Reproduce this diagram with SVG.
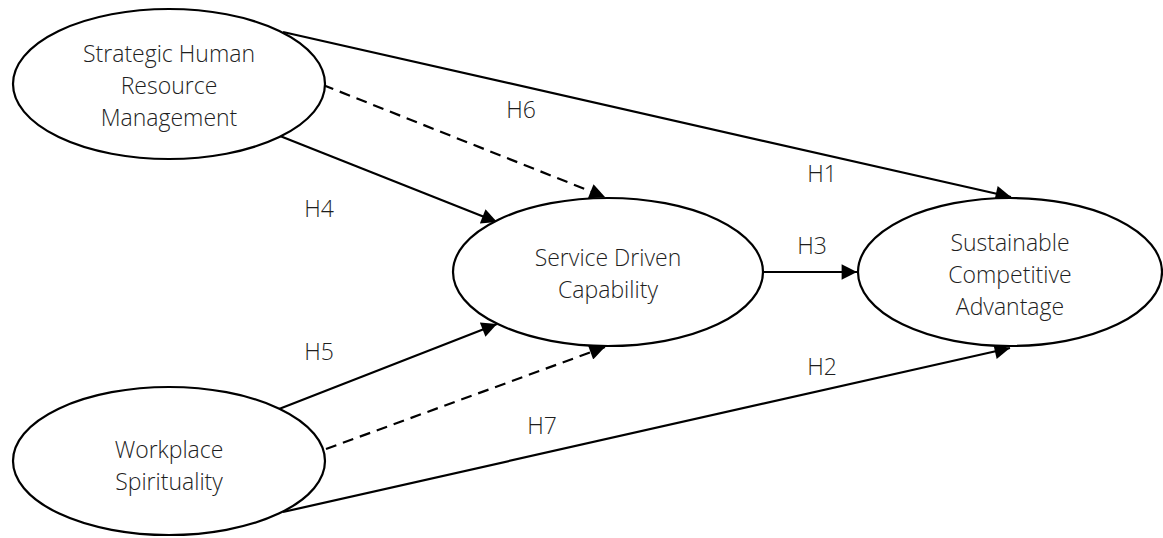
<svg xmlns="http://www.w3.org/2000/svg" width="1163" height="538" viewBox="0 0 1163 538">
<style>
.node ellipse{fill:#fff;stroke:#000;stroke-width:2.2}
text{font-family:"Open Sans","Liberation Sans",sans-serif;font-weight:300;font-size:23px;fill:#1e1e1e;text-anchor:middle}
.edge{stroke:#000;stroke-width:2.2;fill:none;marker-end:url(#ah)}
.dash{stroke-dasharray:11 7}
</style>
<defs>
<marker id="ah" viewBox="0 0 10 10" refX="10" refY="5" markerWidth="8" markerHeight="7" markerUnits="strokeWidth" orient="auto">
<path d="M0,0 L10,5 L0,10 z" fill="#000"/>
</marker>
</defs>
<g id="connectors">
<line class="edge" x1="283" y1="32" x2="1011" y2="197"/>
<line class="edge dash" x1="323" y1="85" x2="605" y2="197"/>
<line class="edge" x1="280" y1="136" x2="497" y2="222"/>
<line class="edge" x1="763" y1="272" x2="857" y2="272"/>
<line class="edge" x1="279" y1="409" x2="497" y2="324"/>
<line class="edge dash" x1="326" y1="449" x2="605" y2="347"/>
<line class="edge" x1="283" y1="512" x2="1010" y2="348"/>
<text x="521" y="118">H6</text>
<text x="319" y="217">H4</text>
<text x="822" y="182">H1</text>
<text x="812" y="254">H3</text>
<text x="319" y="360">H5</text>
<text x="542" y="434">H7</text>
<text x="822" y="375">H2</text>
</g>
<g id="n-shrm" class="node">
<ellipse cx="169" cy="84" rx="156" ry="75"/>
<text x="169" y="62">Strategic Human</text>
<text x="169" y="94">Resource</text>
<text x="169" y="126">Management</text>
</g>
<g id="n-sdc" class="node">
<ellipse cx="608" cy="272" rx="155" ry="74"/>
<text x="608" y="266">Service Driven</text>
<text x="608" y="298">Capability</text>
</g>
<g id="n-sca" class="node">
<ellipse cx="1010" cy="272" rx="152" ry="74"/>
<text x="1010" y="251">Sustainable</text>
<text x="1010" y="283">Competitive</text>
<text x="1010" y="315">Advantage</text>
</g>
<g id="n-ws" class="node">
<ellipse cx="169" cy="461" rx="156" ry="74"/>
<text x="169" y="458">Workplace</text>
<text x="169" y="490">Spirituality</text>
</g>
</svg>
